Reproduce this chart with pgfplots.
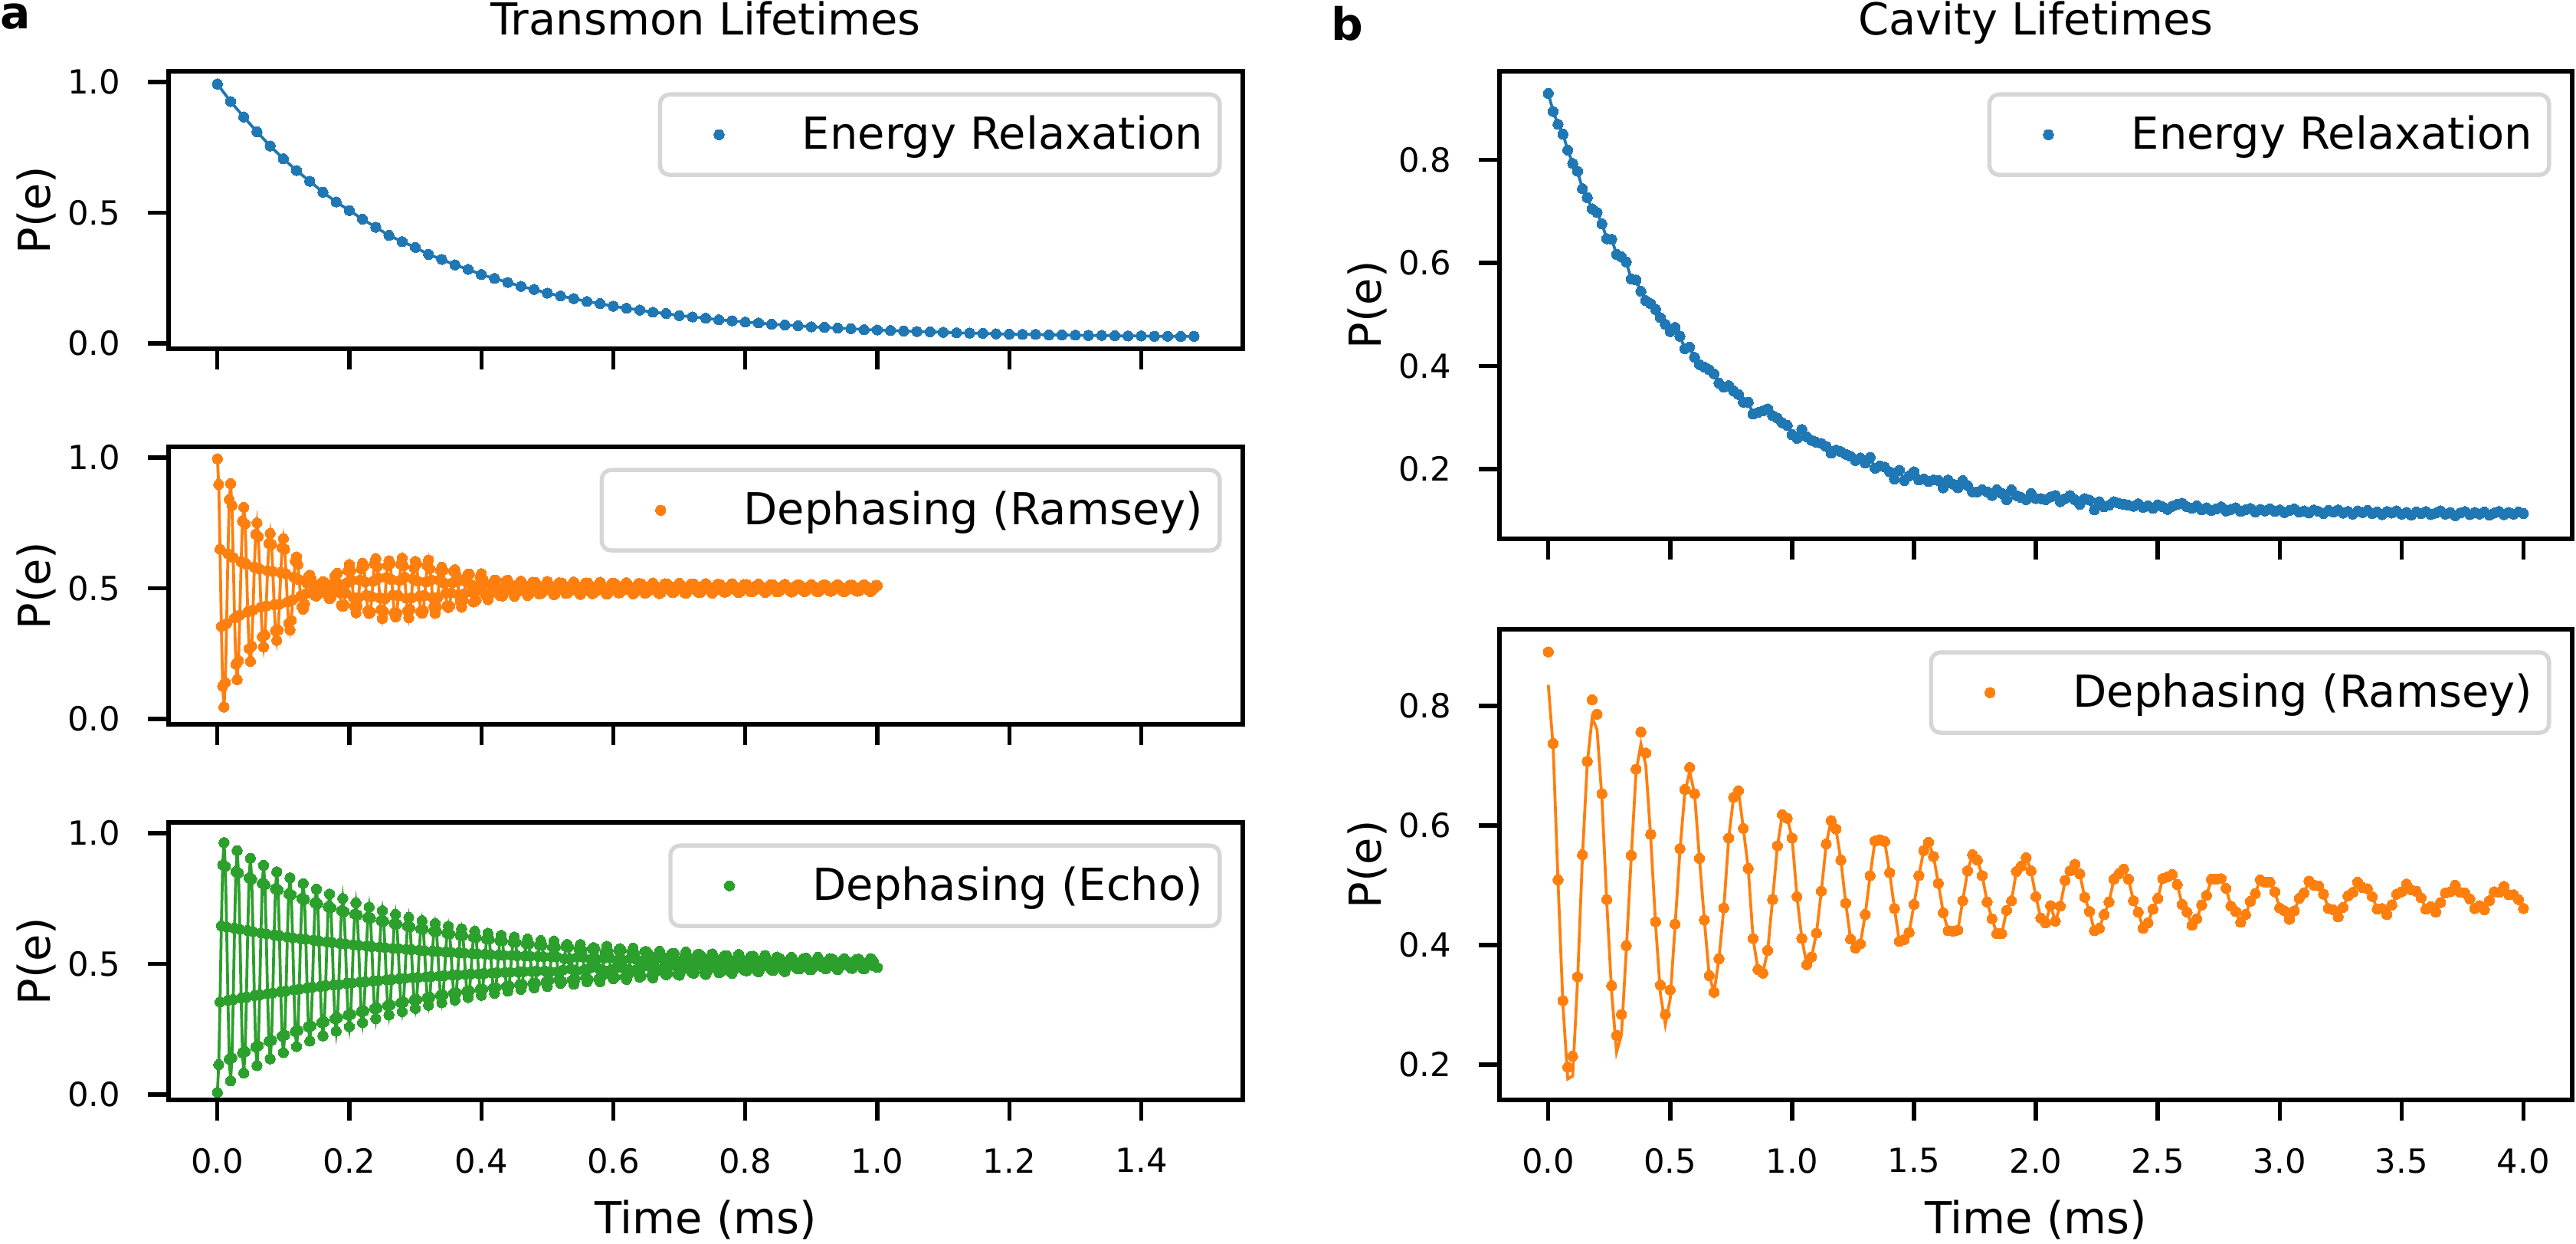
\documentclass[border=0pt]{standalone}
\usepackage{fontspec}
\setmainfont{DejaVu Sans}
\usepackage{pgfplots}
\usepackage{pgfplotstable}
\pgfplotsset{compat=1.18}
\definecolor{C0}{HTML}{1F77B4}
\definecolor{C1}{HTML}{FF7F0E}
\definecolor{C2}{HTML}{2CA02C}
\definecolor{lgray}{RGB}{214,214,214}

\pgfplotstableread{
t y
0.00 0.992
0.02 0.925
0.04 0.866
0.06 0.809
0.08 0.755
0.10 0.706
0.12 0.661
0.14 0.620
0.16 0.578
0.18 0.541
0.20 0.508
0.22 0.475
0.24 0.444
0.26 0.413
0.28 0.389
0.30 0.367
0.32 0.340
0.34 0.321
0.36 0.300
0.38 0.283
0.40 0.263
0.42 0.248
0.44 0.233
0.46 0.218
0.48 0.206
0.50 0.192
0.52 0.181
0.54 0.171
0.56 0.160
0.58 0.152
0.60 0.142
0.62 0.134
0.64 0.127
0.66 0.119
0.68 0.114
0.70 0.106
0.72 0.101
0.74 0.096
0.76 0.090
0.78 0.086
0.80 0.081
0.82 0.078
0.84 0.073
0.86 0.070
0.88 0.067
0.90 0.063
0.92 0.061
0.94 0.058
0.96 0.056
0.98 0.052
1.00 0.051
1.02 0.049
1.04 0.047
1.06 0.045
1.08 0.044
1.10 0.042
1.12 0.040
1.14 0.039
1.16 0.038
1.18 0.036
1.20 0.035
1.22 0.034
1.24 0.034
1.26 0.032
1.28 0.032
1.30 0.031
1.32 0.030
1.34 0.030
1.36 0.029
1.38 0.028
1.40 0.028
1.42 0.027
1.44 0.027
1.46 0.026
1.48 0.027
}\tTone

\pgfplotstableread{
t y
0.000 0.995
0.002 0.897
0.004 0.649
0.006 0.354
0.008 0.125
0.010 0.045
0.012 0.139
0.014 0.365
0.016 0.632
0.018 0.839
0.020 0.900
0.022 0.816
0.024 0.617
0.026 0.386
0.028 0.209
0.030 0.150
0.032 0.223
0.034 0.397
0.036 0.601
0.038 0.757
0.040 0.810
0.042 0.746
0.044 0.592
0.046 0.410
0.048 0.269
0.050 0.220
0.052 0.278
0.054 0.417
0.056 0.581
0.058 0.707
0.060 0.750
0.062 0.698
0.064 0.574
0.066 0.427
0.068 0.314
0.070 0.275
0.072 0.320
0.074 0.432
0.076 0.567
0.078 0.672
0.080 0.710
0.082 0.668
0.084 0.564
0.086 0.437
0.088 0.337
0.090 0.300
0.092 0.340
0.094 0.439
0.096 0.560
0.098 0.655
0.100 0.690
0.102 0.649
0.104 0.555
0.106 0.447
0.108 0.366
0.110 0.340
0.112 0.377
0.114 0.456
0.116 0.542
0.118 0.604
0.120 0.620
0.122 0.591
0.124 0.532
0.126 0.470
0.128 0.429
0.130 0.420
0.132 0.440
0.134 0.479
0.136 0.519
0.138 0.545
0.140 0.550
0.142 0.537
0.144 0.513
0.146 0.488
0.148 0.472
0.150 0.470
0.152 0.477
0.154 0.491
0.156 0.508
0.158 0.521
0.160 0.525
0.162 0.523
0.164 0.510
0.166 0.489
0.168 0.470
0.170 0.460
0.172 0.464
0.174 0.485
0.176 0.516
0.178 0.545
0.180 0.554
0.182 0.557
0.184 0.516
0.186 0.482
0.188 0.435
0.190 0.430
0.192 0.436
0.194 0.484
0.196 0.520
0.198 0.568
0.200 0.591
0.202 0.566
0.204 0.530
0.206 0.465
0.208 0.431
0.210 0.406
0.212 0.432
0.214 0.465
0.216 0.531
0.218 0.574
0.220 0.596
0.222 0.585
0.224 0.524
0.226 0.473
0.228 0.414
0.230 0.403
0.232 0.409
0.234 0.468
0.236 0.527
0.238 0.594
0.240 0.613
0.242 0.583
0.244 0.539
0.246 0.464
0.248 0.418
0.250 0.384
0.252 0.411
0.254 0.460
0.256 0.541
0.258 0.587
0.260 0.605
0.262 0.595
0.264 0.533
0.266 0.474
0.268 0.405
0.270 0.390
0.272 0.404
0.274 0.472
0.276 0.530
0.278 0.592
0.280 0.615
0.282 0.586
0.284 0.542
0.286 0.462
0.288 0.414
0.290 0.387
0.292 0.420
0.294 0.463
0.296 0.536
0.298 0.578
0.300 0.603
0.302 0.593
0.304 0.527
0.306 0.469
0.308 0.411
0.310 0.404
0.312 0.414
0.314 0.472
0.316 0.524
0.318 0.586
0.320 0.608
0.322 0.575
0.324 0.531
0.326 0.464
0.328 0.430
0.330 0.404
0.332 0.429
0.334 0.465
0.336 0.532
0.338 0.568
0.340 0.580
0.342 0.569
0.344 0.519
0.346 0.481
0.348 0.432
0.350 0.426
0.352 0.432
0.354 0.482
0.356 0.521
0.358 0.566
0.360 0.571
0.362 0.550
0.364 0.527
0.366 0.475
0.368 0.449
0.370 0.428
0.372 0.453
0.374 0.478
0.376 0.527
0.378 0.544
0.380 0.554
0.382 0.554
0.384 0.514
0.386 0.485
0.388 0.447
0.390 0.450
0.392 0.454
0.394 0.492
0.396 0.511
0.398 0.542
0.400 0.556
0.402 0.535
0.404 0.518
0.406 0.479
0.408 0.469
0.410 0.456
0.412 0.475
0.414 0.483
0.416 0.513
0.418 0.524
0.420 0.531
0.422 0.531
0.424 0.503
0.426 0.495
0.428 0.472
0.430 0.477
0.432 0.470
0.434 0.492
0.436 0.503
0.438 0.529
0.440 0.531
0.442 0.515
0.444 0.513
0.446 0.490
0.448 0.486
0.450 0.469
0.452 0.480
0.454 0.486
0.456 0.514
0.458 0.516
0.460 0.527
0.462 0.518
0.464 0.511
0.466 0.490
0.468 0.483
0.470 0.472
0.472 0.478
0.474 0.495
0.476 0.506
0.478 0.523
0.480 0.521
0.482 0.522
0.484 0.504
0.486 0.496
0.488 0.478
0.490 0.479
0.492 0.484
0.494 0.490
0.496 0.510
0.498 0.516
0.500 0.526
0.502 0.515
0.504 0.509
0.506 0.491
0.508 0.485
0.510 0.475
0.512 0.480
0.514 0.497
0.516 0.504
0.518 0.521
0.520 0.519
0.522 0.520
0.524 0.503
0.526 0.495
0.528 0.480
0.530 0.481
0.532 0.485
0.534 0.491
0.536 0.510
0.538 0.515
0.540 0.524
0.542 0.513
0.544 0.508
0.546 0.489
0.548 0.484
0.550 0.476
0.552 0.483
0.554 0.496
0.556 0.503
0.558 0.520
0.560 0.518
0.562 0.519
0.564 0.505
0.566 0.494
0.568 0.479
0.570 0.482
0.572 0.486
0.574 0.490
0.576 0.508
0.578 0.514
0.580 0.523
0.582 0.514
0.584 0.502
0.586 0.497
0.588 0.485
0.590 0.477
0.592 0.481
0.594 0.495
0.596 0.509
0.598 0.519
0.600 0.517
0.602 0.518
0.604 0.508
0.606 0.491
0.608 0.482
0.610 0.483
0.612 0.487
0.614 0.492
0.616 0.504
0.618 0.515
0.620 0.521
0.622 0.512
0.624 0.506
0.626 0.496
0.628 0.486
0.630 0.478
0.632 0.482
0.634 0.497
0.636 0.507
0.638 0.518
0.640 0.516
0.642 0.517
0.644 0.503
0.646 0.493
0.648 0.481
0.650 0.484
0.652 0.488
0.654 0.491
0.656 0.509
0.658 0.513
0.660 0.520
0.662 0.513
0.664 0.507
0.666 0.497
0.668 0.484
0.670 0.479
0.672 0.483
0.674 0.495
0.676 0.503
0.678 0.517
0.680 0.515
0.682 0.516
0.684 0.504
0.686 0.492
0.688 0.487
0.690 0.483
0.692 0.486
0.694 0.498
0.696 0.508
0.698 0.512
0.700 0.519
0.702 0.511
0.704 0.507
0.706 0.495
0.708 0.483
0.710 0.480
0.712 0.488
0.714 0.493
0.716 0.505
0.718 0.516
0.720 0.514
0.722 0.516
0.724 0.502
0.726 0.498
0.728 0.486
0.730 0.484
0.732 0.484
0.734 0.496
0.736 0.508
0.738 0.511
0.740 0.518
0.742 0.512
0.744 0.506
0.746 0.493
0.748 0.489
0.750 0.481
0.752 0.487
0.754 0.494
0.756 0.503
0.758 0.515
0.760 0.513
0.762 0.514
0.764 0.504
0.766 0.497
0.768 0.485
0.770 0.485
0.772 0.489
0.774 0.497
0.776 0.507
0.778 0.510
0.780 0.517
0.782 0.510
0.784 0.507
0.786 0.494
0.788 0.488
0.790 0.483
0.792 0.486
0.794 0.495
0.796 0.504
0.798 0.514
0.800 0.512
0.802 0.514
0.804 0.503
0.806 0.498
0.808 0.487
0.810 0.486
0.812 0.490
0.814 0.493
0.816 0.508
0.818 0.509
0.820 0.516
0.822 0.509
0.824 0.506
0.826 0.495
0.828 0.490
0.830 0.484
0.832 0.487
0.834 0.497
0.836 0.503
0.838 0.513
0.840 0.511
0.842 0.513
0.844 0.502
0.846 0.493
0.848 0.486
0.850 0.487
0.852 0.491
0.854 0.496
0.856 0.507
0.858 0.510
0.860 0.515
0.862 0.510
0.864 0.505
0.866 0.497
0.868 0.489
0.870 0.485
0.872 0.488
0.874 0.494
0.876 0.504
0.878 0.512
0.880 0.512
0.882 0.512
0.884 0.503
0.886 0.495
0.888 0.491
0.890 0.487
0.892 0.490
0.894 0.498
0.896 0.506
0.898 0.509
0.900 0.514
0.902 0.509
0.904 0.506
0.906 0.494
0.908 0.488
0.910 0.486
0.912 0.489
0.914 0.495
0.916 0.503
0.918 0.512
0.920 0.511
0.922 0.512
0.924 0.502
0.926 0.497
0.928 0.490
0.930 0.488
0.932 0.491
0.934 0.497
0.936 0.507
0.938 0.509
0.940 0.513
0.942 0.510
0.944 0.505
0.946 0.495
0.948 0.489
0.950 0.486
0.952 0.490
0.954 0.494
0.956 0.504
0.958 0.511
0.960 0.510
0.962 0.512
0.964 0.503
0.966 0.498
0.968 0.491
0.970 0.488
0.972 0.489
0.974 0.497
0.976 0.506
0.978 0.510
0.980 0.513
0.982 0.509
0.984 0.505
0.986 0.494
0.988 0.490
0.990 0.487
0.992 0.491
0.994 0.496
0.996 0.503
0.998 0.511
1.000 0.510
}\tRamsey

\pgfplotstableread{
t y
0.000 0.008
0.002 0.114
0.004 0.354
0.006 0.645
0.008 0.878
0.010 0.964
0.012 0.873
0.014 0.641
0.016 0.360
0.018 0.135
0.020 0.052
0.022 0.140
0.024 0.363
0.026 0.636
0.028 0.853
0.030 0.933
0.032 0.848
0.034 0.632
0.036 0.369
0.038 0.159
0.040 0.082
0.042 0.164
0.044 0.372
0.046 0.627
0.048 0.829
0.050 0.904
0.052 0.824
0.054 0.623
0.056 0.378
0.058 0.182
0.060 0.110
0.062 0.186
0.064 0.381
0.066 0.618
0.068 0.807
0.070 0.877
0.072 0.803
0.074 0.615
0.076 0.386
0.078 0.203
0.080 0.136
0.082 0.207
0.084 0.389
0.086 0.610
0.088 0.787
0.090 0.852
0.092 0.783
0.094 0.607
0.096 0.393
0.098 0.223
0.100 0.160
0.102 0.227
0.104 0.396
0.106 0.603
0.108 0.768
0.110 0.829
0.112 0.764
0.114 0.600
0.116 0.400
0.118 0.241
0.120 0.183
0.122 0.245
0.124 0.403
0.126 0.596
0.128 0.750
0.130 0.807
0.132 0.747
0.134 0.594
0.136 0.407
0.138 0.259
0.140 0.204
0.142 0.262
0.144 0.410
0.146 0.590
0.148 0.733
0.150 0.786
0.152 0.730
0.154 0.587
0.156 0.413
0.158 0.275
0.160 0.224
0.162 0.278
0.164 0.416
0.166 0.584
0.168 0.718
0.170 0.767
0.172 0.715
0.174 0.581
0.176 0.419
0.178 0.290
0.180 0.242
0.182 0.293
0.184 0.421
0.186 0.578
0.188 0.703
0.190 0.750
0.192 0.700
0.194 0.576
0.196 0.425
0.198 0.304
0.200 0.259
0.202 0.306
0.204 0.427
0.206 0.573
0.208 0.690
0.210 0.733
0.212 0.687
0.214 0.571
0.216 0.430
0.218 0.317
0.220 0.275
0.222 0.319
0.224 0.431
0.226 0.568
0.228 0.677
0.230 0.717
0.232 0.675
0.234 0.566
0.236 0.434
0.238 0.329
0.240 0.290
0.242 0.331
0.244 0.436
0.246 0.564
0.248 0.665
0.250 0.703
0.252 0.663
0.254 0.562
0.256 0.439
0.258 0.340
0.260 0.304
0.262 0.343
0.264 0.440
0.266 0.559
0.268 0.654
0.270 0.689
0.272 0.652
0.274 0.558
0.276 0.443
0.278 0.351
0.280 0.317
0.282 0.353
0.284 0.444
0.286 0.555
0.288 0.644
0.290 0.677
0.292 0.642
0.294 0.554
0.296 0.447
0.298 0.361
0.300 0.329
0.302 0.363
0.304 0.448
0.306 0.552
0.308 0.634
0.310 0.665
0.312 0.633
0.314 0.550
0.316 0.450
0.318 0.370
0.320 0.341
0.322 0.372
0.324 0.451
0.326 0.548
0.328 0.625
0.330 0.654
0.332 0.624
0.334 0.547
0.336 0.453
0.338 0.379
0.340 0.351
0.342 0.381
0.344 0.455
0.346 0.545
0.348 0.617
0.350 0.644
0.352 0.615
0.354 0.544
0.356 0.457
0.358 0.387
0.360 0.361
0.362 0.389
0.364 0.458
0.366 0.542
0.368 0.609
0.370 0.634
0.372 0.608
0.374 0.541
0.376 0.459
0.378 0.395
0.380 0.371
0.382 0.396
0.384 0.461
0.386 0.539
0.388 0.602
0.390 0.625
0.392 0.601
0.394 0.538
0.396 0.462
0.398 0.402
0.400 0.379
0.402 0.403
0.404 0.463
0.406 0.537
0.408 0.595
0.410 0.617
0.412 0.594
0.414 0.536
0.416 0.465
0.418 0.408
0.420 0.387
0.422 0.409
0.424 0.466
0.426 0.534
0.428 0.589
0.430 0.609
0.432 0.588
0.434 0.533
0.436 0.467
0.438 0.414
0.440 0.395
0.442 0.415
0.444 0.468
0.446 0.532
0.448 0.583
0.450 0.602
0.452 0.582
0.454 0.531
0.456 0.469
0.458 0.420
0.460 0.402
0.462 0.421
0.464 0.470
0.466 0.530
0.468 0.577
0.470 0.595
0.472 0.576
0.474 0.529
0.476 0.471
0.478 0.425
0.480 0.408
0.482 0.426
0.484 0.472
0.486 0.528
0.488 0.572
0.490 0.589
0.492 0.571
0.494 0.527
0.496 0.473
0.498 0.430
0.500 0.413
0.502 0.436
0.504 0.470
0.506 0.527
0.508 0.563
0.510 0.587
0.512 0.564
0.514 0.527
0.516 0.470
0.518 0.439
0.520 0.425
0.522 0.432
0.524 0.477
0.526 0.520
0.528 0.567
0.530 0.574
0.532 0.564
0.534 0.519
0.536 0.481
0.538 0.438
0.540 0.422
0.542 0.441
0.544 0.473
0.546 0.527
0.548 0.556
0.550 0.574
0.552 0.553
0.554 0.526
0.556 0.477
0.558 0.448
0.560 0.431
0.562 0.440
0.564 0.483
0.566 0.518
0.568 0.557
0.570 0.562
0.572 0.558
0.574 0.519
0.576 0.485
0.578 0.443
0.580 0.431
0.582 0.452
0.584 0.477
0.586 0.522
0.588 0.546
0.590 0.567
0.592 0.549
0.594 0.524
0.596 0.477
0.598 0.452
0.600 0.443
0.602 0.448
0.604 0.484
0.606 0.513
0.608 0.552
0.610 0.558
0.612 0.552
0.614 0.514
0.616 0.483
0.618 0.450
0.620 0.440
0.622 0.457
0.624 0.478
0.626 0.521
0.628 0.544
0.630 0.560
0.632 0.540
0.634 0.518
0.636 0.479
0.638 0.461
0.640 0.449
0.642 0.453
0.644 0.488
0.646 0.515
0.648 0.547
0.650 0.547
0.652 0.542
0.654 0.512
0.656 0.489
0.658 0.457
0.660 0.446
0.662 0.464
0.664 0.484
0.666 0.520
0.668 0.535
0.670 0.548
0.672 0.534
0.674 0.519
0.676 0.482
0.678 0.465
0.680 0.458
0.682 0.462
0.684 0.491
0.686 0.510
0.688 0.537
0.690 0.540
0.692 0.540
0.694 0.511
0.696 0.489
0.698 0.460
0.700 0.456
0.702 0.471
0.704 0.483
0.706 0.514
0.708 0.530
0.710 0.545
0.712 0.530
0.714 0.515
0.716 0.482
0.718 0.471
0.720 0.465
0.722 0.464
0.724 0.489
0.726 0.508
0.728 0.536
0.730 0.536
0.732 0.533
0.734 0.507
0.736 0.492
0.738 0.468
0.740 0.459
0.742 0.471
0.744 0.485
0.746 0.515
0.748 0.526
0.750 0.538
0.752 0.524
0.754 0.515
0.756 0.488
0.758 0.477
0.760 0.466
0.762 0.468
0.764 0.493
0.766 0.509
0.768 0.530
0.770 0.529
0.772 0.531
0.774 0.509
0.776 0.495
0.778 0.469
0.780 0.463
0.782 0.478
0.784 0.487
0.786 0.512
0.788 0.521
0.790 0.536
0.792 0.524
0.794 0.515
0.796 0.486
0.798 0.476
0.800 0.474
0.802 0.473
0.804 0.493
0.806 0.504
0.808 0.528
0.810 0.528
0.812 0.529
0.814 0.505
0.816 0.492
0.818 0.473
0.820 0.469
0.822 0.479
0.824 0.486
0.826 0.513
0.828 0.521
0.830 0.532
0.832 0.518
0.834 0.509
0.836 0.488
0.838 0.483
0.840 0.476
0.842 0.474
0.844 0.496
0.846 0.507
0.848 0.526
0.850 0.521
0.852 0.521
0.854 0.504
0.856 0.496
0.858 0.477
0.860 0.470
0.862 0.484
0.864 0.491
0.866 0.513
0.868 0.515
0.870 0.525
0.872 0.511
0.874 0.509
0.876 0.490
0.878 0.483
0.880 0.481
0.882 0.480
0.884 0.498
0.886 0.503
0.888 0.519
0.890 0.518
0.892 0.522
0.894 0.504
0.896 0.495
0.898 0.477
0.900 0.478
0.902 0.488
0.904 0.489
0.906 0.508
0.908 0.513
0.910 0.525
0.912 0.514
0.914 0.508
0.916 0.489
0.918 0.488
0.920 0.485
0.922 0.480
0.924 0.495
0.926 0.502
0.928 0.520
0.930 0.516
0.932 0.518
0.934 0.501
0.936 0.498
0.938 0.484
0.940 0.477
0.942 0.486
0.944 0.490
0.946 0.510
0.948 0.509
0.950 0.520
0.952 0.510
0.954 0.509
0.956 0.494
0.958 0.491
0.960 0.484
0.962 0.482
0.964 0.499
0.966 0.502
0.968 0.516
0.970 0.512
0.972 0.518
0.974 0.504
0.976 0.500
0.978 0.483
0.980 0.480
0.982 0.491
0.984 0.492
0.986 0.507
0.988 0.508
0.990 0.520
0.992 0.512
0.994 0.510
0.996 0.491
0.998 0.489
1.000 0.486
}\tEcho

\pgfplotstableread{
t y
0.00 0.929
0.02 0.894
0.04 0.869
0.06 0.850
0.08 0.819
0.10 0.793
0.12 0.778
0.14 0.744
0.16 0.727
0.18 0.705
0.20 0.698
0.22 0.676
0.24 0.647
0.26 0.646
0.28 0.617
0.30 0.612
0.32 0.602
0.34 0.569
0.36 0.567
0.38 0.545
0.40 0.527
0.42 0.521
0.44 0.510
0.46 0.494
0.48 0.481
0.50 0.467
0.52 0.475
0.54 0.458
0.56 0.434
0.58 0.437
0.60 0.417
0.62 0.403
0.64 0.398
0.66 0.393
0.68 0.385
0.70 0.367
0.72 0.359
0.74 0.362
0.76 0.352
0.78 0.345
0.80 0.330
0.82 0.330
0.84 0.307
0.86 0.310
0.88 0.313
0.90 0.317
0.92 0.304
0.94 0.299
0.96 0.290
0.98 0.285
1.00 0.267
1.02 0.260
1.04 0.277
1.06 0.263
1.08 0.256
1.10 0.252
1.12 0.250
1.14 0.244
1.16 0.231
1.18 0.237
1.20 0.234
1.22 0.229
1.24 0.225
1.26 0.217
1.28 0.222
1.30 0.212
1.32 0.223
1.34 0.202
1.36 0.206
1.38 0.204
1.40 0.195
1.42 0.181
1.44 0.198
1.46 0.178
1.48 0.187
1.50 0.195
1.52 0.179
1.54 0.181
1.56 0.176
1.58 0.179
1.60 0.178
1.62 0.164
1.64 0.179
1.66 0.171
1.68 0.164
1.70 0.178
1.72 0.168
1.74 0.156
1.76 0.156
1.78 0.160
1.80 0.156
1.82 0.149
1.84 0.160
1.86 0.153
1.88 0.141
1.90 0.160
1.92 0.149
1.94 0.145
1.96 0.141
1.98 0.153
2.00 0.143
2.02 0.143
2.04 0.141
2.06 0.146
2.08 0.149
2.10 0.137
2.12 0.143
2.14 0.149
2.16 0.141
2.18 0.132
2.20 0.143
2.22 0.140
2.24 0.121
2.26 0.137
2.28 0.127
2.30 0.130
2.32 0.137
2.34 0.134
2.36 0.132
2.38 0.130
2.40 0.128
2.42 0.133
2.44 0.126
2.46 0.129
2.48 0.124
2.50 0.131
2.52 0.127
2.54 0.122
2.56 0.128
2.58 0.132
2.60 0.134
2.62 0.127
2.64 0.124
2.66 0.129
2.68 0.121
2.70 0.125
2.72 0.120
2.74 0.123
2.76 0.127
2.78 0.119
2.80 0.122
2.82 0.125
2.84 0.118
2.86 0.121
2.88 0.124
2.90 0.117
2.92 0.122
2.94 0.119
2.96 0.123
2.98 0.118
3.00 0.121
3.02 0.116
3.04 0.120
3.06 0.123
3.08 0.117
3.10 0.119
3.12 0.115
3.14 0.121
3.16 0.118
3.18 0.114
3.20 0.120
3.22 0.117
3.24 0.121
3.26 0.115
3.28 0.118
3.30 0.113
3.32 0.119
3.34 0.116
3.36 0.120
3.38 0.114
3.40 0.117
3.42 0.112
3.44 0.118
3.46 0.115
3.48 0.119
3.50 0.113
3.52 0.116
3.54 0.111
3.56 0.117
3.58 0.114
3.60 0.118
3.62 0.112
3.64 0.115
3.66 0.119
3.68 0.113
3.70 0.116
3.72 0.110
3.74 0.115
3.76 0.118
3.78 0.112
3.80 0.116
3.82 0.113
3.84 0.117
3.86 0.111
3.88 0.115
3.90 0.118
3.92 0.112
3.94 0.116
3.96 0.113
3.98 0.117
4.00 0.114
}\cTone

\pgfplotstableread{
t y
0.00 0.835
0.02 0.730
0.04 0.505
0.06 0.300
0.08 0.176
0.10 0.181
0.12 0.340
0.14 0.548
0.16 0.705
0.18 0.780
0.20 0.760
0.22 0.645
0.24 0.470
0.26 0.320
0.28 0.221
0.30 0.250
0.32 0.392
0.34 0.545
0.36 0.690
0.38 0.736
0.40 0.700
0.42 0.580
0.44 0.435
0.46 0.318
0.48 0.267
0.50 0.310
0.52 0.432
0.54 0.558
0.56 0.655
0.58 0.690
0.60 0.653
}\cRfit

\pgfplotstableread{
t y
0.00 0.890
0.02 0.737
0.04 0.509
0.06 0.307
0.08 0.196
0.10 0.214
0.12 0.347
0.14 0.551
0.16 0.707
0.18 0.810
0.20 0.786
0.22 0.653
0.24 0.476
0.26 0.332
0.28 0.249
0.30 0.284
0.32 0.399
0.34 0.550
0.36 0.694
0.38 0.756
0.40 0.721
0.42 0.585
0.44 0.439
0.46 0.333
0.48 0.284
0.50 0.325
0.52 0.435
0.54 0.561
0.56 0.660
0.58 0.697
0.60 0.653
0.62 0.545
0.64 0.442
0.66 0.349
0.68 0.321
0.70 0.377
0.72 0.462
0.74 0.579
0.76 0.647
0.78 0.658
0.80 0.595
0.82 0.528
0.84 0.411
0.86 0.359
0.88 0.353
0.90 0.391
0.92 0.476
0.94 0.566
0.96 0.618
0.98 0.612
1.00 0.579
1.02 0.481
1.04 0.411
1.06 0.367
1.08 0.380
1.10 0.420
1.12 0.490
1.14 0.569
1.16 0.608
1.18 0.594
1.20 0.542
1.22 0.470
1.24 0.410
1.26 0.395
1.28 0.402
1.30 0.451
1.32 0.516
1.34 0.574
1.36 0.576
1.38 0.573
1.40 0.521
1.42 0.461
1.44 0.406
1.46 0.409
1.48 0.421
1.50 0.468
1.52 0.516
1.54 0.558
1.56 0.572
1.58 0.548
1.60 0.503
1.62 0.454
1.64 0.424
1.66 0.423
1.68 0.425
1.70 0.474
1.72 0.524
1.74 0.551
1.76 0.542
1.78 0.516
1.80 0.472
1.82 0.444
1.84 0.419
1.86 0.419
1.88 0.458
1.90 0.474
1.92 0.523
1.94 0.532
1.96 0.546
1.98 0.524
2.00 0.481
2.02 0.445
2.04 0.437
2.06 0.466
2.08 0.440
2.10 0.465
2.12 0.508
2.14 0.524
2.16 0.535
2.18 0.519
2.20 0.480
2.22 0.456
2.24 0.424
2.26 0.428
2.28 0.451
2.30 0.472
2.32 0.510
2.34 0.519
2.36 0.527
2.38 0.510
2.40 0.474
2.42 0.455
2.44 0.428
2.46 0.437
2.48 0.460
2.50 0.478
2.52 0.511
2.54 0.514
2.56 0.518
2.58 0.501
2.60 0.468
2.62 0.455
2.64 0.433
2.66 0.444
2.68 0.467
2.70 0.483
2.72 0.510
2.74 0.510
2.76 0.511
2.78 0.495
2.80 0.465
2.82 0.456
2.84 0.438
2.86 0.451
2.88 0.473
2.90 0.486
2.92 0.509
2.94 0.505
2.96 0.505
2.98 0.489
3.00 0.462
3.02 0.457
3.04 0.443
3.06 0.457
3.08 0.478
3.10 0.487
3.12 0.507
3.14 0.500
3.16 0.499
3.18 0.485
3.20 0.461
3.22 0.459
3.24 0.447
3.26 0.463
3.28 0.482
3.30 0.488
3.32 0.505
3.34 0.496
3.36 0.494
3.38 0.481
3.40 0.460
3.42 0.461
3.44 0.451
3.46 0.467
3.48 0.485
3.50 0.489
3.52 0.502
3.54 0.492
3.56 0.490
3.58 0.479
3.60 0.460
3.62 0.464
3.64 0.455
3.66 0.471
3.68 0.487
3.70 0.489
3.72 0.500
3.74 0.488
3.76 0.487
3.78 0.477
3.80 0.461
3.82 0.466
3.84 0.459
3.86 0.474
3.88 0.489
3.90 0.488
3.92 0.498
3.94 0.484
3.96 0.484
3.98 0.476
4.00 0.461
}\cRamsey

\pgfplotsset{
  base/.style={
    scale only axis,
    axis line style={line width=1.4pt},
    tick style={black, line width=1.3pt},
    major tick length=6.5pt,
    tick align=outside,
    xtick pos=left, ytick pos=left,
    tick label style={font=\fontsize{10.4}{12}\selectfont},
    xticklabel style={inner sep=0pt, anchor=north},
    yticklabel style={inner sep=0pt, anchor=east},
    xticklabel shift=8.4pt, yticklabel shift=8.4pt,
    /pgf/number format/fixed, /pgf/number format/fixed zerofill,
    /pgf/number format/precision=1,
    /pgf/number format/assume math mode=true,
    scaled ticks=false,
    label style={font=\fontsize{13.8}{16}\selectfont},
    xlabel style={yshift=-5pt},
    legend cell align=left,
    legend style={at={(rel axis cs:1,1)}, anchor=north east, xshift=-6.6pt, yshift=-6.6pt,
      draw=lgray, line width=1.3pt, rounded corners=3pt, fill=white,
      inner xsep=0pt, inner ysep=0pt,
      font=\fontsize{13.8}{16}\selectfont,
      nodes={inner sep=0pt},
      /tikz/every even column/.append style={column sep=0pt}},
    legend image code/.code={%
      \path[draw=none, fill=none] (-18.5pt,-12.6pt) rectangle (26pt,12.6pt);
      \draw[##1] plot coordinates {(0pt,0pt)};},
  },
  dline/.style={line width=0.9pt, no marks},
  ddots/.style={only marks, mark=*, mark size=1.6pt, mark options={line width=0pt}},
}

\begin{document}
\begin{tikzpicture}
\useasboundingbox (0,0) rectangle (806.88pt,389.52pt);

% left top
\begin{axis}[base, at={(52.8pt,280.3pt)}, anchor=south west, width=336.5pt, height=86.9pt,
  xmin=-0.074, xmax=1.554, ymin=-0.021, ymax=1.041,
  xtick={0,0.2,0.4,0.6,0.8,1.0,1.2,1.4}, xticklabels={}, ytick={0,0.5,1},
  ylabel={P(e)}]
\addplot[C0, dline, forget plot] table {\tTone};
\addplot[C0, ddots] table {\tTone};
\addlegendentry{Energy Relaxation\hspace*{5.3pt}}
\end{axis}

% left middle
\begin{axis}[base, at={(52.8pt,162.7pt)}, anchor=south west, width=336.5pt, height=86.9pt,
  xmin=-0.074, xmax=1.554, ymin=-0.021, ymax=1.041,
  xtick={0,0.2,0.4,0.6,0.8,1.0,1.2,1.4}, xticklabels={}, ytick={0,0.5,1},
  ylabel={P(e)}]
\addplot[C1, dline, forget plot] table {\tRamsey};
\addplot[C1, ddots] table {\tRamsey};
\addlegendentry{Dephasing (Ramsey)\hspace*{5.3pt}}
\end{axis}

% left bottom
\begin{axis}[base, at={(52.8pt,45.1pt)}, anchor=south west, width=336.5pt, height=86.9pt,
  xmin=-0.074, xmax=1.554, ymin=-0.021, ymax=1.041,
  xtick={0,0.2,0.4,0.6,0.8,1.0,1.2,1.4}, ytick={0,0.5,1},
  ylabel={P(e)}, xlabel={Time (ms)}]
\addplot[C2, dline, forget plot] table {\tEcho};
\addplot[C2, ddots] table {\tEcho};
\addlegendentry{Dephasing (Echo)\hspace*{5.3pt}}
\end{axis}

% right top
\begin{axis}[base, at={(469.7pt,220.8pt)}, anchor=south west, width=336pt, height=146.4pt,
  xmin=-0.2, xmax=4.2, ymin=0.065, ymax=0.972,
  xtick={0,0.5,1,1.5,2,2.5,3,3.5,4}, xticklabels={}, ytick={0.2,0.4,0.6,0.8},
  ylabel={P(e)}]
\addplot[C0, dline, forget plot] table {\cTone};
\addplot[C0, ddots] table {\cTone};
\addlegendentry{Energy Relaxation\hspace*{5.3pt}}
\end{axis}

% right bottom
\begin{axis}[base, at={(469.7pt,45.1pt)}, anchor=south west, width=336pt, height=147.4pt,
  xmin=-0.2, xmax=4.2, ymin=0.141, ymax=0.928,
  xtick={0,0.5,1,1.5,2,2.5,3,3.5,4}, ytick={0.2,0.4,0.6,0.8},
  ylabel={P(e)}, xlabel={Time (ms)}]
\addplot[C1, dline, forget plot] table {\cRfit};
\addplot[C1, dline, forget plot, restrict x to domain=0.59:4.1] table {\cRamsey};
\addplot[C1, ddots] table {\cRamsey};
\addlegendentry{Dephasing (Ramsey)\hspace*{5.3pt}}
\end{axis}

\node[font=\fontsize{13.8}{16}\selectfont, anchor=base] at (221.0pt,378.7pt) {Transmon Lifetimes};
\node[font=\fontsize{13.8}{16}\selectfont, anchor=base] at (637.7pt,378.7pt) {Cavity Lifetimes};
\node[font=\bfseries\fontsize{14}{16}\selectfont, anchor=base west, inner sep=0pt] at (0pt,380.4pt) {a};
\node[font=\bfseries\fontsize{14}{16}\selectfont, anchor=base west, inner sep=0pt] at (416.9pt,377pt) {b};
\end{tikzpicture}
\end{document}
